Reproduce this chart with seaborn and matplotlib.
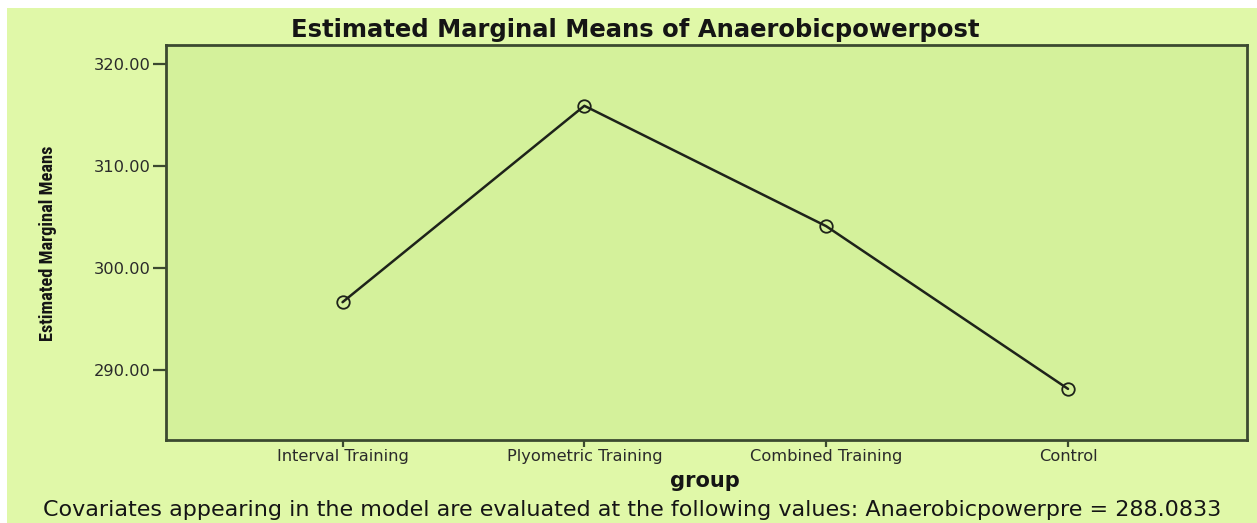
import matplotlib
matplotlib.use("Agg")
import matplotlib.pyplot as plt
import seaborn as sns
import pandas as pd
from matplotlib.patches import Rectangle
from matplotlib import font_manager

# ---- data ----
groups = ["Interval Training", "Plyometric Training", "Combined Training", "Control"]
means = [296.65, 315.90, 304.10, 288.15]
yticks = [290, 300, 310, 320]
ytick_labels = ["290.00", "300.00", "310.00", "320.00"]
title = "Estimated Marginal Means of Anaerobicpowerpost"
xlabel = "group"
ylabel = "Estimated Marginal Means"
footnote = ("Covariates appearing in the model are evaluated at the following "
            "values: Anaerobicpowerpre = 288.0833")

OUTER = "#E0F8A8"
INNER = "#D4F19B"
FRAME = "#3C4A30"
LINE = "#1E231A"
TXT = "#2A2A2A"

sns.set_theme(style="white")
plt.rcParams["font.family"] = ["DejaVu Sans"]

names = {f.name for f in font_manager.fontManager.ttflist}
narrow = None
for cand in ["Liberation Sans Narrow", "DejaVu Sans Condensed", "Roboto Condensed",
             "Open Sans Condensed"]:
    if cand in names:
        narrow = cand
        break

W, H = 1257, 523
fig = plt.figure(figsize=(W / 100, H / 100), dpi=100, facecolor="white")
fig.patches.append(Rectangle((7 / W, 0), 1 - 7 / W, 1 - 8 / H, transform=fig.transFigure,
                             facecolor=OUTER, edgecolor="none", zorder=-10))
ax = fig.add_axes([166 / W, 1 - 440 / H, (1247 - 166) / W, (440 - 45) / H])
ax.set_facecolor(INNER)

df = pd.DataFrame({"group": groups, "mean": means})
sns.lineplot(data=df, x="group", y="mean", ax=ax, sort=False, color=LINE, linewidth=1.8,
             marker="o", markersize=9, markerfacecolor="none", markeredgecolor=LINE,
             markeredgewidth=1.3)

ax.set_xlim(-0.73, 3.74)
ax.set_ylim(283.14, 321.86)
ax.set_xticks(range(len(groups)))
ax.set_xticklabels(groups)
ax.set_yticks(yticks)
ax.set_yticklabels(ytick_labels)
ax.set_xlabel("")
ax.set_ylabel("")
ax.tick_params(axis="both", direction="out", width=1.6, color=FRAME,
               bottom=True, left=True, labelcolor=TXT)
ax.tick_params(axis="x", length=5, pad=1.5)
ax.tick_params(axis="y", length=9.5, pad=1.5)
for s in ax.spines.values():
    s.set_color(FRAME)
    s.set_linewidth(2)
    s.set_visible(True)

t_title = fig.text(635 / W, 1 - 30 / H, title, ha="center", va="center",
                   weight="bold", color="#151515")
t_x = fig.text(705 / W, 1 - 481 / H, xlabel, ha="center", va="center",
               weight="bold", color="#151515")
t_foot = fig.text(632 / W, 1 - 510 / H, footnote, ha="center", va="center", color="#151515")
yfam = [narrow, "DejaVu Sans"] if narrow else ["DejaVu Sans"]
t_y = fig.text(48 / W, 1 - 243 / H, ylabel, ha="center", va="center", rotation=90,
               weight="bold", color="#151515", family=yfam)

fig.canvas.draw()
r = fig.canvas.get_renderer()

K = 0.87


def fit(t, target, use_height=False):
    bb = t.get_window_extent(r)
    w = bb.height if use_height else bb.width
    t.set_fontsize(t.get_fontsize() * target / w)


fit(t_title, 763 * 0.9)
fit(t_x, 80 * K)
fit(t_foot, 1236 * 0.95)
fit(t_y, 196, use_height=True)

xl = ax.get_xticklabels()
w = xl[1].get_window_extent(r).width
fsx = xl[1].get_fontsize() * 180 * K / w
for lab in xl:
    lab.set_fontsize(fsx)
yl = ax.get_yticklabels()
w = yl[0].get_window_extent(r).width
fsy = yl[0].get_fontsize() * 65 * K / w
for lab in yl:
    lab.set_fontsize(fsy)

fig.savefig("out.png", dpi=100, facecolor="white")
